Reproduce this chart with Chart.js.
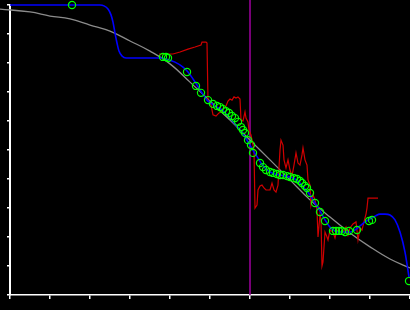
<!DOCTYPE html>
<html>
<head>
<meta charset="utf-8">
<script src="https://cdn.jsdelivr.net/npm/chart.js"></script>
<style>
  html, body { margin: 0; padding: 0; background: #000; overflow: hidden; }
  canvas { display: block; }
</style>
</head>
<body>
<canvas id="fit-chart" width="410" height="310"></canvas>
<script>
// ── data (x: 0-100, y: 0-100) ──

// smooth reference curve (gray)
const trueX = [-2.5, 5, 10, 15, 20, 25, 30, 35, 40, 45, 50, 55, 60, 65, 70, 75, 80, 85, 90, 95, 100];
const trueY = [98.6, 97.6, 96.2, 95.2, 93.1, 91.0, 87.6, 84.1, 79.7, 73.4, 66.9, 60.3, 53.4, 46.6, 39.7, 32.8, 26.9, 21.4, 16.6, 12.4, 9.3];

// fitted curve (blue)
const fitX = [0, 22.5, 23.5, 24.5, 25.25, 25.75, 26.25, 26.75, 27.25, 28, 29, 37.5, 39, 41.25, 43.25, 44.5, 45.75, 46.75, 48, 49.25,
  50.5, 51.75, 53, 54.5, 56.25, 57.5, 58.75, 60, 61, 62, 62.75, 63.75, 65, 66.25, 67.5, 68.75, 70, 71.25, 72.5, 73.75,
  75, 76.25, 77.5, 78.75, 80, 81.25, 82.5, 83.75, 85, 86.25, 87.5, 88.75, 90, 91.25, 92.5, 93.75, 95, 96.25, 97.5, 98.75, 99.75];
const fitY = [100, 100, 99.7, 98.6, 96.6, 94.1, 90.3, 86.9, 84.1, 82.4, 81.7, 81.7, 81.4, 80.3, 78.6, 76.9, 74.5, 72.4, 69.7, 67.2,
  65.9, 64.8, 63.8, 61.7, 59.0, 56.9, 54.5, 51.7, 49.3, 47.2, 45.5, 43.8, 42.4, 41.7, 41.4, 41.0, 40.7, 40.0, 38.6, 36.6,
  34.5, 31.7, 29.0, 25.9, 23.4, 22.1, 21.7, 21.7, 21.7, 22.4, 23.8, 25.2, 26.2, 27.2, 27.9, 27.9, 27.6, 25.9, 21.7, 14.8, 6.2];

// noisy measurement (red)
const measX = [37.25, 39, 40.75, 42.5, 44.5, 46.25, 47.75, 48, 49, 49.25, 49.5, 49.75, 50.25, 50.75, 51.5, 52.25, 52.75, 53.5, 54, 54.5,
  55, 55.5, 56, 56.5, 57, 57.5, 57.75, 58.25, 58.75, 59, 59.5, 59.75, 60.25, 60.5, 61, 61.25, 61.75, 62, 62.5, 63,
  63.5, 64, 65, 65.5, 66, 66.5, 67, 67.5, 67.75, 68.25, 68.5, 69, 69.5, 70, 70.5, 71, 71.5, 72, 72.5, 73,
  73.25, 73.75, 74.25, 74.5, 75, 75.25, 75.75, 76.25, 76.75, 77, 77.5, 77.75, 78, 78.25, 78.75, 79.25, 79.5, 80, 80.75, 81.25,
  81.75, 82.5, 83.25, 84, 84.5, 85, 85.75, 86.5, 87, 87.5, 88, 88.5, 89, 89.25, 89.5, 92];
const measY = [83.1, 83.1, 83.1, 83.8, 84.8, 85.5, 86.2, 87.2, 87.2, 86.9, 67.2, 66.9, 65.5, 62.1, 61.7, 62.8, 63.1, 64.5, 65.2, 66.9,
  67.6, 67.2, 68.3, 67.9, 68.3, 67.6, 60.3, 60.0, 63.1, 61.0, 59.7, 56.9, 55.2, 53.4, 50.0, 30.0, 31.0, 36.2, 37.6, 37.9,
  36.9, 36.2, 36.2, 38.6, 36.2, 35.5, 37.9, 50.0, 53.4, 51.7, 46.6, 43.8, 46.6, 43.1, 41.0, 44.8, 49.0, 45.5, 44.8, 48.3,
  50.7, 46.6, 44.8, 39.7, 37.9, 31.0, 34.5, 32.8, 29.3, 20.0, 27.6, 25.9, 10.0, 11.4, 21.7, 20.0, 19.0, 22.4, 21.7, 19.7,
  22.4, 21.7, 21.7, 23.4, 20.7, 23.1, 24.5, 25.2, 19.0, 23.1, 22.4, 25.2, 27.9, 30.0, 33.4, 33.4];

// sample points (green circles)
const sampleX = [15.5, 38.25, 39, 39.5, 44.25, 46.5, 47.75, 49.5, 50.75, 51.75, 52.5, 53.25, 54, 54.75, 55.5, 56.25, 57, 57.75, 58.25, 58.75,
  59.5, 60.25, 60.75, 62.5, 63.25, 64, 65, 65.75, 66.75, 67.5, 68.25, 69.25, 70, 71, 71.75, 72.5, 73, 73.75, 74.25, 75,
  76.25, 77.5, 78.75, 80.75, 81.5, 82.25, 83, 83.75, 84.75, 86.75, 89.75, 90.5, 99.75];
const sampleY = [100, 82.1, 82.1, 81.7, 76.9, 72.1, 69.7, 67.2, 65.9, 65.2, 64.8, 64.1, 63.4, 62.8, 61.7, 61.0, 59.7, 57.9, 56.9, 55.9,
  53.4, 51.7, 49.0, 45.5, 44.1, 43.1, 42.4, 42.1, 41.7, 41.4, 41.4, 41.0, 40.7, 40.3, 40.0, 39.3, 38.6, 37.6, 36.9, 35.2,
  31.7, 28.6, 25.5, 22.1, 22.1, 22.1, 22.1, 21.7, 22.1, 22.4, 25.5, 25.9, 4.8];

// vertical marker (magenta)
const markerX = [60];
const markerSpan = [0, 101.7];

const xTicks = [0, 100, 10];  // min, max, step
const yTicks = [0, 100, 10];

const pts = (xs, ys) => xs.map((x, i) => ({ x: x, y: ys[i] }));

const ctx = document.getElementById('fit-chart').getContext('2d');

new Chart(ctx, {
  type: 'scatter',
  data: {
    datasets: [
      {
        data: pts(sampleX, sampleY),
        showLine: false,
        pointStyle: 'circle',
        pointRadius: 3.6,
        pointBorderWidth: 1.2,
        pointBorderColor: '#00ff00',
        pointBackgroundColor: 'rgba(0,0,0,0)',
        clip: false,
        order: 1
      },
      {
        data: pts(fitX, fitY),
        showLine: true,
        borderColor: '#0000ff',
        borderWidth: 1.6,
        pointRadius: 0,
        cubicInterpolationMode: 'monotone',
        clip: false,
        order: 2
      },
      {
        data: pts(measX, measY),
        showLine: true,
        borderColor: '#d00000',
        borderWidth: 1.2,
        pointRadius: 0,
        tension: 0,
        clip: false,
        order: 3
      },
      {
        data: pts(trueX, trueY),
        showLine: true,
        borderColor: '#8c8c8c',
        borderWidth: 1.3,
        pointRadius: 0,
        tension: 0.4,
        clip: false,
        order: 4
      },
      {
        data: markerSpan.map(y => ({ x: markerX[0], y: y })),
        showLine: true,
        borderColor: '#a000a0',
        borderWidth: 1.5,
        pointRadius: 0,
        clip: false,
        order: 5
      }
    ]
  },
  options: {
    animation: false,
    responsive: false,
    devicePixelRatio: 1,
    layout: { autoPadding: false, padding: { top: 5, left: 0, right: 0, bottom: 0 } },
    scales: {
      x: {
        type: 'linear',
        min: xTicks[0],
        max: xTicks[1],
        ticks: { display: false, stepSize: xTicks[2] },
        grid: { drawOnChartArea: false, drawTicks: true, tickLength: 4, color: '#ffffff', lineWidth: 1.5 },
        border: { display: true, color: '#ffffff', width: 1.5 },
        afterFit: s => { s.height = 15; }
      },
      y: {
        type: 'linear',
        min: yTicks[0],
        max: yTicks[1],
        ticks: { display: false, stepSize: yTicks[2] },
        grid: { drawOnChartArea: false, drawTicks: true, tickLength: 3, color: '#ffffff', lineWidth: 1.5 },
        border: { display: true, color: '#ffffff', width: 2 },
        afterFit: s => { s.width = 10; }
      }
    },
    plugins: {
      legend: { display: false },
      tooltip: { enabled: false }
    }
  }
});
</script>
</body>
</html>
